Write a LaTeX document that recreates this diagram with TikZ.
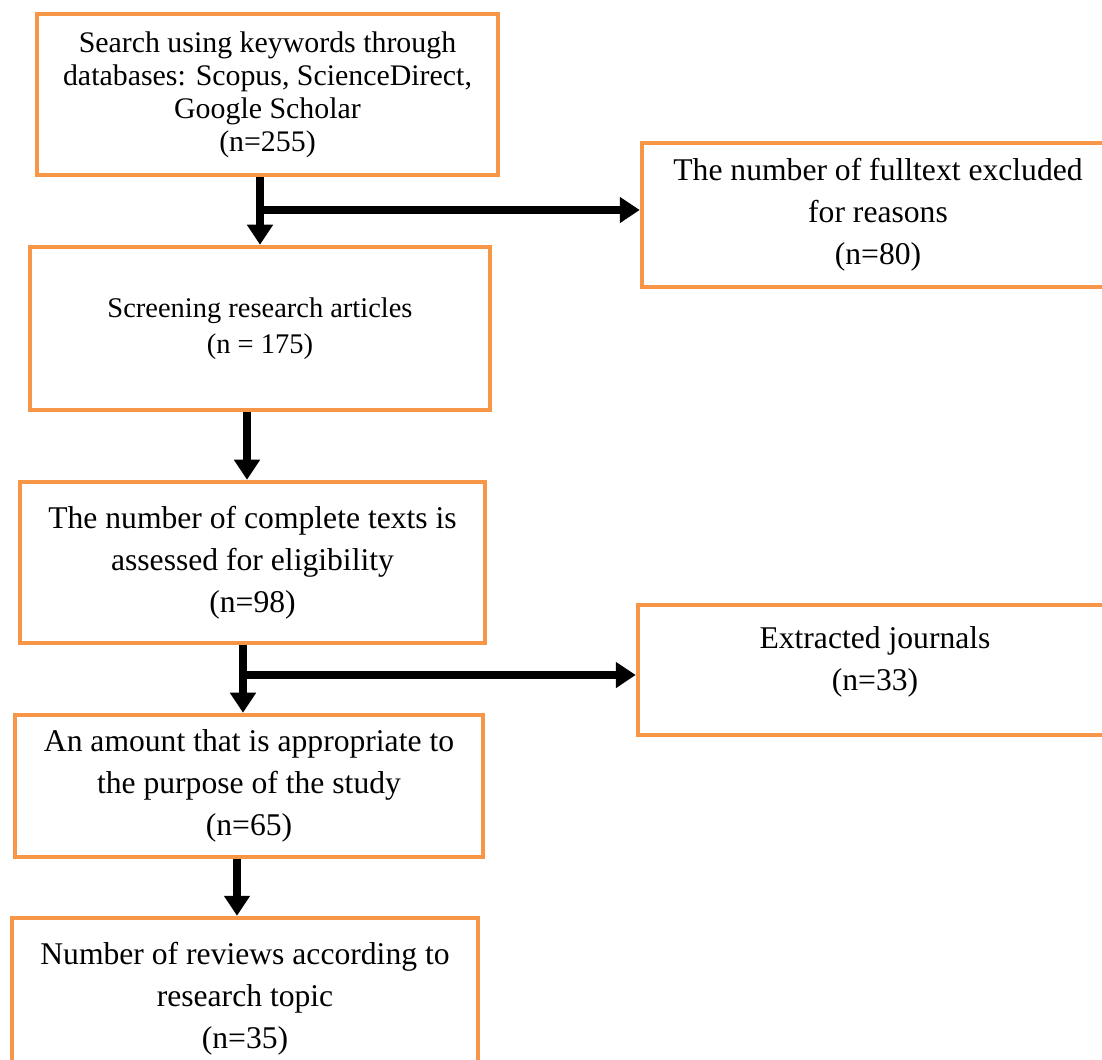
\documentclass[tikz,border=0pt]{standalone}
\usepackage{fontspec}
\setmainfont{Liberation Serif}
\usetikzlibrary{arrows.meta, positioning, calc}
\definecolor{boxorange}{RGB}{247,150,70}

\begin{document}
\begin{tikzpicture}[
        x=0.02cm, y=-0.02cm,
        flowbox/.style={rectangle, draw=boxorange, line width=2.6pt, fill=white, align=center, inner sep=2pt, font=\fontsize{18}{24}\selectfont},
        flowarrow/.style={line width=4pt, -{Triangle[width=0.5cm, length=0.4cm]}}
    ]
        \useasboundingbox (0,0) rectangle (1102,1059);
        \clip (0,0) rectangle (1102,1059);

        \node[flowbox, minimum width=9.22cm, minimum height=3.22cm, font=\fontsize{17}{18.8}\selectfont] (search) at (267.5,94.5) {Search using keywords through\\databases: Scopus, ScienceDirect,\\Google Scholar\\(n=255)};
        \node[flowbox, minimum width=9.2cm, minimum height=3.26cm, font=\fontsize{16.2}{20.5}\selectfont] (screen) at (260,328.5) {Screening research articles\\(n = 175)};
        \node[flowbox, minimum width=9.3cm, minimum height=3.22cm] (complete) at (252.5,562.5) {The number of complete texts is\\assessed for eligibility\\(n=98)};
        \node[flowbox, minimum width=9.36cm, minimum height=2.84cm] (appropriate) at (249,786) {An amount that is appropriate to\\the purpose of the study\\(n=65)};
        \node[flowbox, minimum width=9.32cm, minimum height=3.24cm] (reviews) at (245,999) {Number of reviews according to\\research topic\\(n=35)};
        \node[flowbox, minimum width=9.44cm, minimum height=2.88cm] (excluded) at (878,215) {The number of fulltext excluded\\for reasons\\(n=80)};
        \node[flowbox, minimum width=9.48cm, minimum height=2.6cm, text depth=0.46cm] (extracted) at (875,670) {Extracted journals\\(n=33)};

        \coordinate (split1) at (260,210);
        \coordinate (split2) at (243,675);

        \draw[flowarrow] (search.south -| split1) -- (screen.north -| split1);
        \draw[flowarrow] (split1) -- (split1 -| excluded.west);
        \draw[flowarrow] ([xshift=-0.26cm]screen.south) -- ([xshift=-0.26cm]screen.south |- complete.north);
        \draw[flowarrow] (complete.south -| split2) -- (appropriate.north -| split2);
        \draw[flowarrow] (split2) -- (split2 -| extracted.west);
        \draw[flowarrow] ([xshift=-0.24cm]appropriate.south) -- ([xshift=-0.24cm]appropriate.south |- reviews.north);
    \end{tikzpicture}
\end{document}
